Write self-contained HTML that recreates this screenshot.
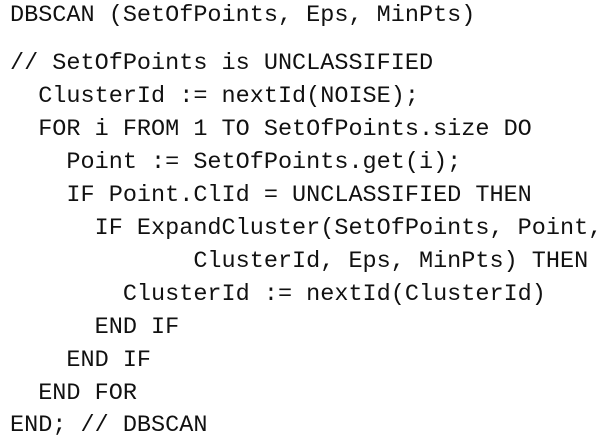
<!DOCTYPE html>
<html><head><style>
html,body{margin:0;padding:0;background:#fff;width:603px;height:444px;overflow:hidden}
pre{margin:0;position:absolute;left:10px;font-family:"Liberation Mono","Courier New",monospace;font-size:23.5px;color:#111;white-space:pre;line-height:1}
</style></head><body>
<pre style="top:4px">DBSCAN (SetOfPoints, Eps, MinPts)</pre>
<pre style="top:52px">// SetOfPoints is UNCLASSIFIED</pre>
<pre style="top:85px">  ClusterId := nextId(NOISE);</pre>
<pre style="top:118px">  FOR i FROM 1 TO SetOfPoints.size DO</pre>
<pre style="top:151px">    Point := SetOfPoints.get(i);</pre>
<pre style="top:184px">    IF Point.ClId = UNCLASSIFIED THEN</pre>
<pre style="top:217px">      IF ExpandCluster(SetOfPoints, Point,</pre>
<pre style="top:250px">             ClusterId, Eps, MinPts) THEN</pre>
<pre style="top:283px">        ClusterId := nextId(ClusterId)</pre>
<pre style="top:316px">      END IF</pre>
<pre style="top:349px">    END IF</pre>
<pre style="top:382px">  END FOR</pre>
<pre style="top:414px">END; // DBSCAN</pre>
</body></html>
